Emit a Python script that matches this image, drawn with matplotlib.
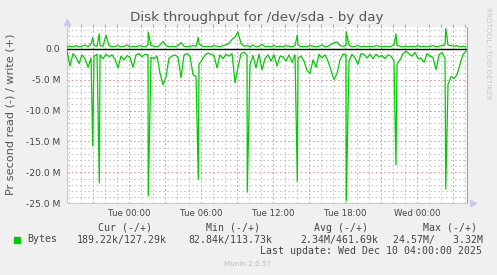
import numpy as np
import matplotlib
matplotlib.use("Agg")
import matplotlib.pyplot as plt
from matplotlib.patches import Rectangle

# --- data (MB/s), x in hours since Tue 00:00, 15 min base grid ---
t_start = -5.19
t_step = 0.25
read_base = [
    0.4, 2.8, 0.8, 1.4, 2.4, 1.0, 1.6, 3.0, 1.5, 1.2,
    0.9, 1.0, 1.6, 0.9, 1.3, 1.0, 1.7, 3.1, 1.2, 1.8,
    1.1, 1.4, 3.0, 1.0, 0.8, 1.3, 0.9, 1.0, 1.4, 1.6,
    1.2, 4.0, 5.8, 4.5, 1.5, 1.2, 1.0, 1.4, 4.7, 1.0,
    0.8, 1.2, 4.2, 4.5, 2.5, 1.8, 1.0, 0.7, 0.9, 1.1,
    3.1, 1.0, 1.6, 0.9, 1.2, 0.8, 5.5, 3.0, 0.8, 0.6,
    1.0, 2.6, 1.1, 3.1, 0.9, 3.4, 1.6, 1.0, 2.0, 1.0,
    2.8, 1.2, 1.3, 2.0, 1.0, 2.2, 1.0, 1.5, 1.2, 2.0,
    3.5, 4.0, 1.8, 3.0, 0.9, 1.5, 1.0, 2.0, 3.5, 5.0,
    4.0, 1.8, 0.9, 1.0, 2.0, 0.9, 1.5, 2.5, 0.8, 0.9,
    1.5, 0.9, 1.6, 0.9, 1.3, 1.1, 1.6, 1.0, 1.2, 2.0,
    2.5, 1.8, 0.8, 0.4, 0.8, 1.2, 0.6, 1.6, 1.5, 2.2,
    0.8, 1.2, 1.4, 3.4, 1.0, 0.6, 1.5, 5.8, 4.5, 4.8,
    4.2, 2.5, 0.9, 0.4,
]
write_base = [
    0.3, 0.4, 0.3, 0.5, 0.3, 0.4, 0.6, 0.3, 0.8, 0.5,
    0.4, 0.5, 0.4, 2.2, 0.5, 0.3, 0.4, 0.5, 0.3, 0.4,
    0.6, 0.3, 0.4, 0.3, 0.5, 0.4, 0.3, 0.6, 0.5, 0.4,
    0.3, 0.6, 1.2, 0.5, 0.3, 0.4, 0.3, 0.5, 1.0, 0.4,
    0.3, 0.4, 0.5, 0.4, 0.8, 0.4, 0.3, 0.4, 0.3, 0.5,
    0.4, 0.3, 0.5, 0.6, 0.9, 1.5, 1.9, 2.7, 0.8, 0.4,
    0.5, 0.3, 0.6, 0.3, 0.4, 0.7, 0.3, 0.4, 0.3, 0.5,
    0.3, 0.4, 0.3, 0.5, 0.4, 0.3, 0.5, 0.6, 0.3, 0.4,
    0.3, 0.5, 0.4, 0.3, 0.4, 0.6, 0.3, 0.4, 0.7, 1.0,
    1.1, 0.5, 0.4, 0.5, 0.6, 0.3, 0.4, 0.5, 0.3, 0.4,
    0.3, 0.4, 0.3, 0.5, 0.4, 0.3, 0.4, 0.3, 0.4, 0.6,
    0.5, 0.4, 0.3, 0.4, 0.3, 0.4, 0.3, 0.5, 0.3, 0.4,
    0.3, 0.4, 0.5, 0.3, 0.4, 0.5, 0.6, 0.6, 0.5, 0.4,
    0.5, 0.3, 0.4, 0.3,
]
# short bursts (single 5 min samples)
spike_t = [-3.05, -2.5, 1.58, 5.75, 9.83, 14.0, 18.08, 22.22, 26.37]
spike_read = [15.7, 21.7, 23.8, 21.1, 23.2, 21.5, 24.6, 18.8, 22.7]
spike_write = [1.8, 2.4, 2.7, 1.8, 0.5, 2.2, 2.7, 2.4, 3.3]

xtick_pos = [0, 6, 12, 18, 24]
xtick_lab = ["Tue 00:00", "Tue 06:00", "Tue 12:00", "Tue 18:00", "Wed 00:00"]
ytick_pos = [0, -5, -10, -15, -20, -25]
ytick_lab = ["0.0", "-5.0 M", "-10.0 M", "-15.0 M", "-20.0 M", "-25.0 M"]

base_t = t_start + t_step * np.arange(len(read_base))
t = np.concatenate([base_t, spike_t])
rd = np.concatenate([read_base, spike_read])
wr = np.concatenate([write_base, spike_write])
order = np.argsort(t)
t, rd, wr = t[order], rd[order], wr[order]

W, H = 497, 275
fig = plt.figure(figsize=(W / 100, H / 100), dpi=100, facecolor="#F0F0F0")
x0, x1, y0, y1 = 66.7, 466.7, 27.3, 203.3
ax = fig.add_axes([x0 / W, 1 - y1 / H, (x1 - x0) / W, (y1 - y0) / H])
ax.set_facecolor("white")
ax.set_xlim(-5.217, 28.117)
ax.set_ylim(-25, 3.46)

# grid, rrdtool style
dots = (0, (1.5, 2.5))
for h in np.arange(-5, 29, 1):
    major = (h % 3 == 0)
    ax.axvline(h, color="#E09090" if major else "#C4C4C4", lw=0.75, ls=dots, zorder=1)
for v in np.arange(-25, 4, 1):
    major = (v % 5 == 0)
    ax.axhline(v, color="#E09090" if major else "#C4C4C4", lw=0.75, ls=dots, zorder=1)

ax.plot(t, -rd, color="#00CC00", lw=0.9, zorder=3)
ax.plot(t, wr, color="#00CC00", lw=0.9, zorder=3)
ax.axhline(0, color="black", lw=1.0, zorder=4)

for s in ["left", "bottom"]:
    ax.spines[s].set_color("#C8C8F0")
ax.spines["right"].set_color("#A0A0A0")
ax.spines["top"].set_visible(False)
ax.plot([0], [1.03], marker="^", ms=5, color="#C8C8F0", transform=ax.transAxes, clip_on=False)
ax.plot([1.016], [0], marker=">", ms=5, color="#C8C8F0", transform=ax.transAxes, clip_on=False)

ax.set_xticks(xtick_pos)
ax.set_xticklabels(xtick_lab, fontsize=6.2, color="#444444")
ax.set_xticks(np.arange(-5, 29, 1), minor=True)
ax.tick_params(axis="x", which="major", length=0, pad=3.8)
ax.tick_params(axis="x", which="minor", top=True, bottom=False, length=2, color="#999999")
ax.set_yticks(ytick_pos)
ax.set_yticklabels(ytick_lab, fontsize=6.6, color="#444444")
ax.tick_params(axis="y", length=0, pad=4.6)

def ftext(x, y, s, **kw):
    fig.text(x / W, 1 - y / H, s, **kw)

ftext(256.5, 17.5, "Disk throughput for /dev/sda - by day", fontsize=9.7,
      color="#555555", ha="center", va="center")
ftext(11, 114, "Pr second read (-) / write (+)", fontsize=8.1, color="#555555",
      rotation=90, ha="center", va="center")
ftext(488, 53, "RRDTOOL / TOBI OETIKER", fontsize=5.2, color="#C8C8C8",
      rotation=270, ha="center", va="center")

mono = dict(family="DejaVu Sans Mono", fontsize=7.1, color="#444444", va="center")
ftext(125, 228, "Cur (-/+)", ha="center", **mono)
ftext(233.5, 228, "Min (-/+)", ha="center", **mono)
ftext(341.5, 228, "Avg (-/+)", ha="center", **mono)
ftext(450, 228, "Max (-/+)", ha="center", **mono)
ftext(27, 239.5, "Bytes", ha="left", **mono)
ftext(167, 239.5, "189.22k/127.29k", ha="right", **mono)
ftext(272, 239.5, "82.84k/113.73k", ha="right", **mono)
ftext(378, 239.5, "2.34M/461.69k", ha="right", **mono)
ftext(483, 239.5, "24.57M/   3.32M", ha="right", **mono)
ftext(482, 251.5, "Last update: Wed Dec 10 04:00:00 2025", ha="right", **mono)
fig.patches.append(Rectangle((14 / W, 1 - 242.5 / H), 6 / W, 6 / H,
                             transform=fig.transFigure, color="#00CC00"))
ftext(248, 264, "Munin 2.0.57", fontsize=5.2, color="#BBBBBB", ha="center", va="center")

fig.savefig("out.png", dpi=100, facecolor=fig.get_facecolor())
